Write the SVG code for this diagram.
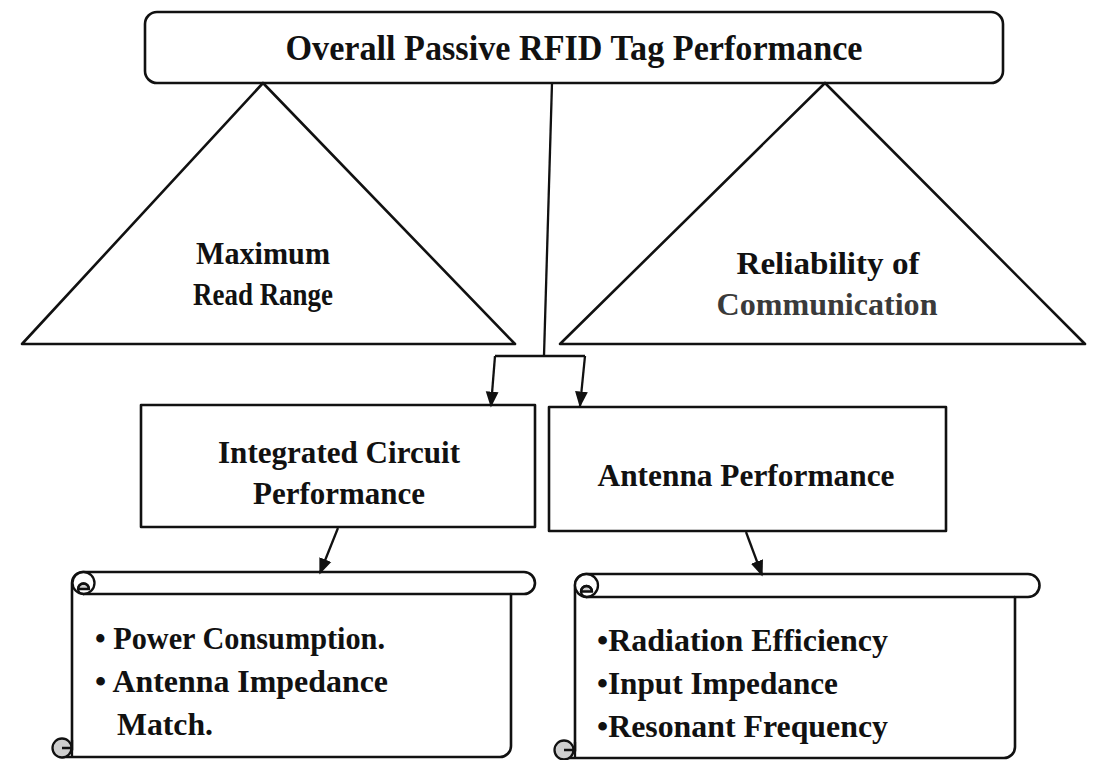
<svg xmlns="http://www.w3.org/2000/svg" width="1093" height="760" viewBox="0 0 1093 760">
  <style>
    .shape { fill: #ffffff; stroke: #111111; stroke-width: 2.6; stroke-linejoin: round; }
    .line { fill: none; stroke: #111111; stroke-width: 2.3; }
    .roll { fill: #ffffff; stroke: #111111; stroke-width: 2.3; }
    .curl { fill: #cfcfcf; stroke: #111111; stroke-width: 2.3; }
    .t { font-family: "Liberation Serif", "Times New Roman", serif; font-weight: bold; fill: #111111; }
    .title { font-size: 36px; }
    .big { font-size: 31px; }
    .mid { font-size: 31px; }
  </style>
  <defs>
    <marker id="arrowL" viewBox="0 0 10 10" refX="9" refY="5" markerWidth="16" markerHeight="16" markerUnits="userSpaceOnUse" orient="auto">
      <path d="M0,1 L10,5 L0,9 Z" fill="#111111"/>
    </marker>
  </defs>

  <rect width="1093" height="760" fill="#ffffff"/>

  <!-- top node -->
  <g id="overall">
    <rect class="shape" x="145" y="12" width="858" height="71" rx="12"/>
    <text class="t title" x="574" y="60" text-anchor="middle" textLength="577" lengthAdjust="spacingAndGlyphs">Overall Passive RFID Tag Performance</text>
  </g>

  <!-- triangles -->
  <g id="read-range">
    <polygon class="shape" points="263,83 515,344 22,344"/>
    <text class="t big" x="263" y="264" text-anchor="middle" textLength="134" lengthAdjust="spacingAndGlyphs">Maximum</text>
    <text class="t big" x="263" y="305" text-anchor="middle" textLength="140" lengthAdjust="spacingAndGlyphs">Read Range</text>
  </g>
  <g id="reliability">
    <polygon class="shape" points="825,83 1085,344 560,344"/>
    <text class="t big" x="828" y="274" text-anchor="middle" textLength="183" lengthAdjust="spacingAndGlyphs">Reliability of</text>
    <text class="t big" x="827" y="315" text-anchor="middle" textLength="221" lengthAdjust="spacingAndGlyphs" style="fill:#3a3a3a">Communication</text>
  </g>

  <!-- middle boxes -->
  <g id="ic-performance">
    <rect class="shape" x="141" y="405" width="394" height="122"/>
    <text class="t mid" x="339" y="463" text-anchor="middle" textLength="242" lengthAdjust="spacingAndGlyphs">Integrated Circuit</text>
    <text class="t mid" x="339" y="504" text-anchor="middle" textLength="172" lengthAdjust="spacingAndGlyphs">Performance</text>
  </g>
  <g id="antenna-performance">
    <rect class="shape" x="549" y="407" width="397" height="124"/>
    <text class="t mid" x="746" y="486" text-anchor="middle" textLength="297" lengthAdjust="spacingAndGlyphs">Antenna Performance</text>
  </g>

  <!-- scrolls -->
  <g id="ic-details">
    <path class="shape" d="M72,583 A11,11 0 0 1 83,572 L524,572 A11,11 0 0 1 524,594 L511,594 L511,746 A11,11 0 0 1 500,757 L62,757 L62,750 L72,750 Z"/>
    <line class="line" x1="83" y1="594" x2="511" y2="594"/>
    <circle class="roll" cx="83.5" cy="583" r="11"/>
    <path class="curl" d="M78,589 A5.5,5.5 0 0 1 89,589 Z"/>
    <path class="line" d="M89,589 A5.5,5.5 0 0 0 78,589 A5.5,5.5 0 0 0 83.5,594"/>
    <circle class="curl" cx="62" cy="748" r="9.5"/>
    <path class="line" d="M62,748 L72,748 M72,740 L72,757"/>
    <text class="t mid" x="95" y="649" textLength="290" lengthAdjust="spacingAndGlyphs">• Power Consumption.</text>
    <text class="t mid" x="95" y="692" textLength="293" lengthAdjust="spacingAndGlyphs">• Antenna Impedance</text>
    <text class="t mid" x="117" y="735" textLength="96" lengthAdjust="spacingAndGlyphs">Match.</text>
  </g>
  <g id="antenna-details">
    <path class="shape" d="M575,585 A11,11 0 0 1 586,574 L1028,574 A11.5,11.5 0 0 1 1028,597 L1015,597 L1015,747 A11,11 0 0 1 1004,758 L564,758 L564,751 L575,751 Z"/>
    <line class="line" x1="586" y1="597" x2="1015" y2="597"/>
    <circle class="roll" cx="586.5" cy="585.5" r="11.5"/>
    <path class="curl" d="M581,591.5 A5.5,5.5 0 0 1 592,591.5 Z"/>
    <path class="line" d="M592,591.5 A5.5,5.5 0 0 0 581,591.5 A5.5,5.5 0 0 0 586.5,597"/>
    <circle class="curl" cx="564" cy="750" r="9.5"/>
    <path class="line" d="M564,750 L575,750 M575,742 L575,758"/>
    <text class="t mid" x="597" y="651" textLength="291" lengthAdjust="spacingAndGlyphs">•Radiation Efficiency</text>
    <text class="t mid" x="597" y="694" textLength="241" lengthAdjust="spacingAndGlyphs">•Input Impedance</text>
    <text class="t mid" x="597" y="737" textLength="291" lengthAdjust="spacingAndGlyphs">•Resonant Frequency</text>
  </g>

  <!-- connectors -->
  <g id="connectors">
    <polyline class="line" points="552,83 544,356"/>
    <polyline class="line" points="495,356 585,356"/>
    <line class="line" x1="495" y1="356" x2="491" y2="406" marker-end="url(#arrowL)"/>
    <line class="line" x1="585" y1="356" x2="580" y2="406" marker-end="url(#arrowL)"/>
    <line class="line" x1="338" y1="528" x2="320" y2="573" marker-end="url(#arrowL)"/>
    <line class="line" x1="746" y1="532" x2="762" y2="575" marker-end="url(#arrowL)"/>
  </g>
</svg>
